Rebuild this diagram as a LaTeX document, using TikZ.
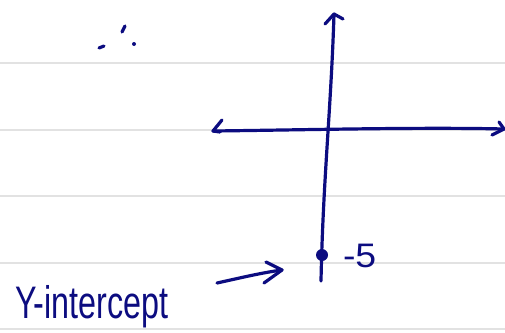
\documentclass[tikz,border=0pt]{standalone}
\usepackage{fontspec}
\setmainfont{Liberation Sans}
\definecolor{ink}{RGB}{12,12,128}
\definecolor{rulegray}{RGB}{226,226,226}
\begin{document}
\begin{tikzpicture}[x=1pt,y=-1pt,
  pen/.style={draw=ink, line width=3.2pt, line cap=round, line join=round},
  ruleline/.style={draw=rulegray, line width=1.8pt},
  hand/.style={text=ink, inner sep=0pt, outer sep=0pt}]
\useasboundingbox (0,0) rectangle (505,332);
% ruled paper
\foreach \yy in {63,130,196,263,329} \draw[ruleline] (0,\yy) -- (505,\yy);
% stray marks top left
\draw[pen] (99,48) -- (104,46);
\draw[pen] (122,32) -- (125,26);
\fill[ink] (134,44) circle (2);
% axes
\coordinate (xl) at (213,131);
\coordinate (xr) at (504,129);
\coordinate (yt) at (334,14);
\coordinate (yb) at (321,281);
\draw[pen] (xl) .. controls (300,130) and (420,127) .. (xr);
\draw[pen] (222,120) -- (xl) -- (220,132);
\draw[pen] (499,122) -- (xr) -- (492,135);
\draw[pen] (yt) .. controls (331,110) and (323,180) .. (yb);
\draw[pen] (325,24) -- (yt) -- (343,19);
% y-intercept point
\node[circle, fill=ink, minimum size=12pt, inner sep=0pt] (pt) at (322,255) {};
\node[hand, anchor=base west, font=\fontsize{34}{36}\selectfont, xscale=1.1] (val) at (343,267) {-5};
% label and arrow
\node[hand, anchor=base west, font=\fontsize{38}{40}\selectfont, xscale=0.85, yscale=1.2] (lbl) at (15,318) {Y-intercept};
\coordinate (as) at (217,283);
\coordinate (ae) at (282,270);
\draw[pen] (as) .. controls (240,278) and (260,273) .. (ae);
\draw[pen] (266,262) -- (ae) -- (264,283);
\end{tikzpicture}
\end{document}
